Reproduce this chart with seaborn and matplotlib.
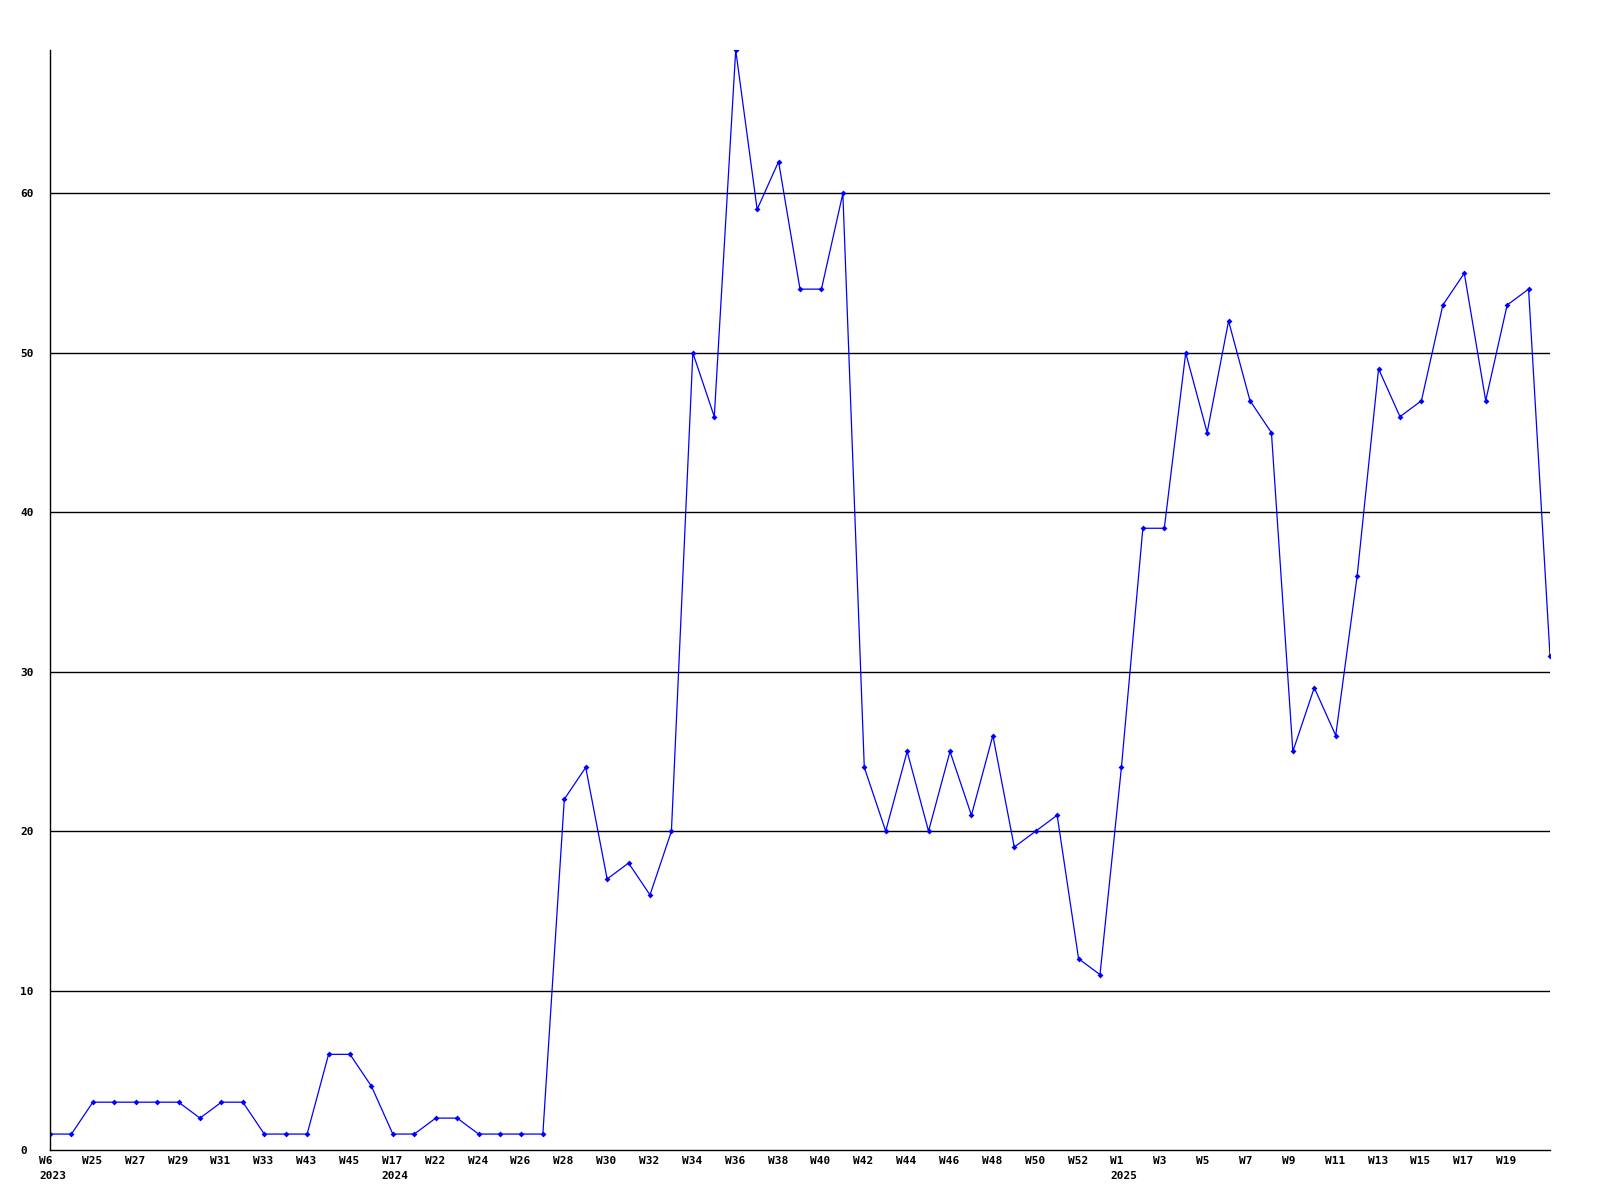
import numpy as np
import pandas as pd
import matplotlib
matplotlib.use("Agg")
import matplotlib.pyplot as plt
import matplotlib.transforms as mtransforms
import seaborn as sns

# ---------------- data ----------------
counts = [1, 1, 3, 3, 3, 3, 3, 2, 3, 3,
          1, 1, 1, 6, 6, 4, 1, 1, 2, 2,
          1, 1, 1, 1, 22, 24, 17, 18, 16, 20,
          50, 46, 69, 59, 62, 54, 54, 60, 24, 20,
          25, 20, 25, 21, 26, 19, 20, 21, 12, 11,
          24, 39, 39, 50, 45, 52, 47, 45, 25, 29,
          26, 36, 49, 46, 47, 53, 55, 47, 53, 54,
          31]

week_labels = ["W6", "W25", "W27", "W29", "W31", "W33", "W43", "W45", "W17",
               "W22", "W24", "W26", "W28", "W30", "W32", "W34", "W36", "W38",
               "W40", "W42", "W44", "W46", "W48", "W50", "W52", "W1", "W3",
               "W5", "W7", "W9", "W11", "W13", "W15", "W17", "W19"]
year_marks = {0: "2023", 16: "2024", 50: "2025"}
y_ticks = [0, 10, 20, 30, 40, 50, 60]

df = pd.DataFrame({"idx": np.arange(len(counts)), "count": counts})

# ---------------- plot ----------------
sns.set_style("white")
plt.rcParams['font.family'] = ['DejaVu Sans Mono']
plt.rcParams['text.color'] = 'black'
plt.rcParams['ytick.color'] = 'black'
plt.rcParams['xtick.color'] = 'black'

fig = plt.figure(figsize=(16, 12), dpi=100)
ax = fig.add_axes([50 / 1600, 50 / 1200, 1500 / 1600, 1100 / 1200])

sns.lineplot(data=df, x="idx", y="count", ax=ax, color="#0000ff",
             linewidth=0.9, marker="D", markersize=3, markeredgewidth=0)

ax.set_xlim(0, len(counts) - 1)
ax.set_ylim(0, 69)

# gridlines
for v in y_ticks[1:]:
    ax.axhline(v, color="black", linewidth=1, zorder=0)

# x labels every second point, left-aligned slightly before the point
tick_pos = list(range(0, len(counts) - 1, 2))
ax.set_xticks(tick_pos)
ax.set_xticklabels([])
trans = mtransforms.blended_transform_factory(ax.transData, ax.transAxes)
trans = trans + mtransforms.ScaledTranslation(-11 / 100, -6 / 100, fig.dpi_scale_trans)
for i, p in enumerate(tick_pos):
    lab = week_labels[i]
    if p in year_marks:
        lab += "\n" + year_marks[p]
    ax.text(p, 0, lab, transform=trans, ha="left", va="top", color="black",
            fontsize=8, fontweight="bold", linespacing=1.6)

ax.set_yticks(y_ticks)
ax.set_yticklabels([str(v) for v in y_ticks], fontsize=8, fontweight="bold",
                   ha="left", color="black")
ax.tick_params(axis="y", length=0, pad=21.5)
ax.tick_params(axis="x", length=0)

ax.set_xlabel("")
ax.set_ylabel("")
for s in ["top", "right"]:
    ax.spines[s].set_visible(False)
for s in ["left", "bottom"]:
    ax.spines[s].set_color("black")
    ax.spines[s].set_linewidth(1)

fig.savefig("out.png", dpi=100, facecolor="white")
